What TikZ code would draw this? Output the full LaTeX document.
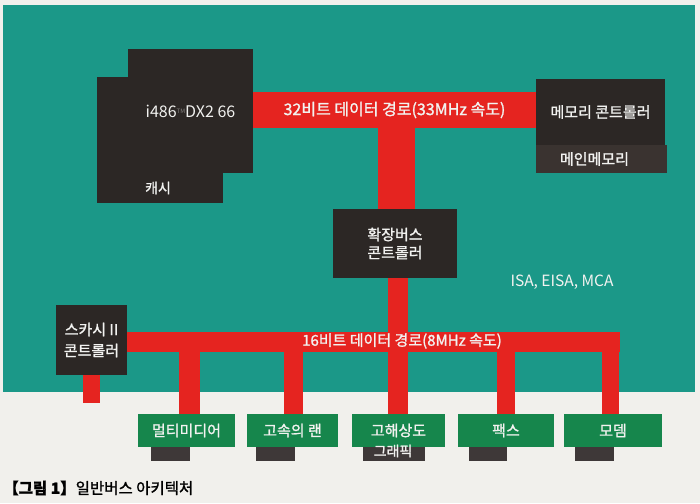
\documentclass[tikz,border=0pt]{standalone}
\usepackage{fontspec}
\setmainfont{Noto Sans CJK KR}
\newfontfamily\labelfont[FakeBold=1.3]{Noto Sans CJK KR}
\usetikzlibrary{backgrounds}
\definecolor{tealbg}{RGB}{27,152,136}
\definecolor{busred}{RGB}{229,36,32}
\definecolor{darkbox}{RGB}{44,39,37}
\definecolor{darkbox2}{RGB}{58,51,48}
\definecolor{cardgreen}{RGB}{22,134,76}
\definecolor{tabdark}{RGB}{62,56,56}
\definecolor{paper}{RGB}{241,240,236}
\definecolor{ink}{RGB}{242,242,240}
\begin{document}
\begin{tikzpicture}[x=1pt,y=-1pt,
  txt/.style={text=ink,font=\labelfont\fontsize{15}{18}\selectfont,inner sep=0pt,align=center},
  box/.style={txt,fill=darkbox,draw=none,inner sep=0pt},
  busband/.style={fill=busred,draw=none,inner sep=0pt,txt,font=\labelfont\fontsize{16}{19}\selectfont},
  card/.style={txt,fill=cardgreen,draw=none,minimum width=#1,minimum height=33pt},
  cardtab/.style={fill=tabdark,draw=none,inner sep=0pt,minimum width=#1,minimum height=14pt},
  redline/.style={draw=busred,line width=#1,line cap=butt}
]
\useasboundingbox (0,0) rectangle (700,503);
\begin{pgfonlayer}{background}
  \fill[paper] (0,0) rectangle (700,503);
  \fill[tealbg] (3,5) rectangle (695,392);
\end{pgfonlayer}

% CPU
\node[box,minimum width=126pt,minimum height=126pt] (cpuback) at (160,140) {};
\node[box,minimum width=125pt,minimum height=124pt,font=\fontsize{16}{19}\selectfont] (cpu) at (190.5,111)
  {i486\raisebox{4pt}{\color{ink!45!darkbox}\fontsize{6}{7}\selectfont TM}DX2 66};
\node[txt,font=\labelfont\fontsize{14}{17}\selectfont] (cache) at (158,188) {캐시};

% memory
\node[box,minimum width=129pt,minimum height=66pt] (memctl) at (600.5,112) {메모리 콘트롤러};
\node[box,fill=darkbox2,minimum width=131pt,minimum height=28pt] (mainmem) at (601.5,159) {\hspace{-14pt}메인메모리};

% 32-bit bus
\node[busband,minimum width=283pt,minimum height=36pt] (bus32) at (394.5,110) {32비트 데이터 경로(33MHz 속도)};

% expansion bus controller
\node[box,minimum width=124pt,minimum height=69pt] (exp) at (395,243.5) {확장버스\\콘트롤러};
\node[txt,font=\fontsize{15.5}{18}\selectfont] (isa) at (562,282) {ISA, EISA, MCA};

% SCSI controller
\node[box,minimum width=71pt,minimum height=70pt] (scsi) at (91.5,340) {스카시 II\\[3pt]콘트롤러};
\coordinate (scsiend) at (91.5,403);

% 16-bit bus
\node[fill=busred,draw=none,inner sep=0pt,minimum width=493pt,minimum height=20pt] (bus16) at (373.5,342) {};
\node[txt,font=\labelfont\fontsize{15}{18}\selectfont] (bus16lbl) at (402,341) {16비트 데이터 경로(8MHz 속도)};

% cards
\node[card=97pt] (mm) at (186.5,430.5) {멀티미디어};
\node[card=91pt] (lan) at (292.5,430.5) {고속의 랜};
\node[card=93pt] (hires) at (398.5,430.5) {고해상도};
\node[card=96pt] (fax) at (506,430.5) {팩스};
\node[card=98pt] (modem) at (613,430.5) {모뎀};

\node[cardtab=39pt] (mmtab) at (170.5,454) {};
\node[cardtab=39pt] (lantab) at (275.5,454) {};
\node[cardtab=62pt] (hirestab) at (394,454) {};
\node[cardtab=38pt] (faxtab) at (488,454) {};
\node[cardtab=39pt] (modemtab) at (594.5,454) {};
\node[txt,font=\labelfont\fontsize{14}{16}\selectfont] (graphic) at (393,451) {그래픽};

% caption
\node[anchor=west,inner sep=0pt,text=black,font=\labelfont\fontsize{15.5}{18}\selectfont] (caption) at (3,488)
  {\textbf{【그림 1】}일반버스 아키텍처};

% connectors (under the nodes)
\begin{pgfonlayer}{background}
  \draw[redline=37pt] ([xshift=1.5pt]exp.north) -- ([xshift=1.5pt]exp.north |- bus32.south);
  \draw[redline=20pt] ([xshift=3pt]exp.south) -- ([xshift=3pt]exp.south |- hires.north);
  \draw[redline=17pt] (scsi.south) -- (scsiend);
  \draw[redline=21pt] ([xshift=3pt]mm.north) -- ([xshift=3pt]mm.north |- bus16.south);
  \draw[redline=19pt] ([xshift=1pt]lan.north) -- ([xshift=1pt]lan.north |- bus16.south);
  \draw[redline=18pt] (fax.north) -- (fax.north |- bus16.south);
  \draw[redline=17pt] ([xshift=-2.5pt]modem.north) -- ([xshift=-2.5pt]modem.north |- bus16.south);
\end{pgfonlayer}
\end{tikzpicture}
\end{document}
